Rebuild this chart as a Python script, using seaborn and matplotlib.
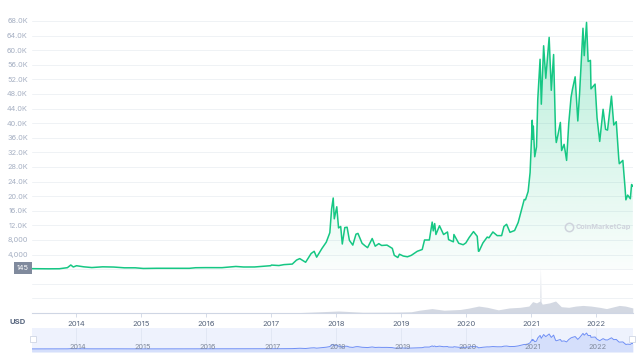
import seaborn as sns
import matplotlib.pyplot as plt
import matplotlib.dates as mdates
import numpy as np
import pandas as pd
from matplotlib.colors import to_rgb
from matplotlib.ticker import FuncFormatter

# price (USD)
price_dates = [
    "2013-04-28", "2013-06-01", "2013-08-01", "2013-10-01", "2013-11-15", "2013-12-04", "2013-12-18",
    "2014-01-05", "2014-02-15", "2014-04-01", "2014-06-01", "2014-08-01", "2014-10-01", "2014-12-01",
    "2015-01-15", "2015-04-01", "2015-07-01", "2015-10-01", "2015-11-05",
    "2016-01-01", "2016-04-01", "2016-06-18", "2016-08-01", "2016-10-01", "2016-12-31",
    "2017-01-04", "2017-02-15", "2017-03-15", "2017-05-01", "2017-05-25", "2017-06-12", "2017-07-15",
    "2017-08-15", "2017-09-01", "2017-09-15", "2017-10-15", "2017-11-08", "2017-11-28", "2017-12-08",
    "2017-12-17", "2017-12-23",
    "2018-01-06", "2018-01-16", "2018-01-28", "2018-02-06", "2018-02-20", "2018-03-05", "2018-03-18",
    "2018-04-06", "2018-04-24", "2018-05-05", "2018-05-28", "2018-06-14", "2018-06-28", "2018-07-24",
    "2018-08-10", "2018-08-30", "2018-09-15", "2018-10-15", "2018-11-14", "2018-11-25", "2018-12-15",
    "2018-12-24",
    "2019-01-15", "2019-02-07", "2019-03-01", "2019-04-03", "2019-05-01", "2019-05-14", "2019-06-10",
    "2019-06-26", "2019-07-02", "2019-07-10", "2019-07-17", "2019-08-06", "2019-08-29", "2019-09-20",
    "2019-09-26", "2019-10-23", "2019-10-26", "2019-11-22", "2019-12-17",
    "2020-01-01", "2020-01-20", "2020-02-13", "2020-03-05", "2020-03-12", "2020-03-16", "2020-04-06",
    "2020-04-30", "2020-05-10", "2020-06-01", "2020-06-25", "2020-07-20", "2020-08-02", "2020-08-17",
    "2020-09-05", "2020-10-01", "2020-10-21", "2020-11-05", "2020-11-24", "2020-12-01", "2020-12-16",
    "2020-12-27",
    "2021-01-08", "2021-01-11", "2021-01-14", "2021-01-22", "2021-02-01", "2021-02-08", "2021-02-21",
    "2021-02-28", "2021-03-13", "2021-03-25", "2021-04-13", "2021-04-25", "2021-05-08", "2021-05-19",
    "2021-05-23", "2021-06-01", "2021-06-15", "2021-06-22", "2021-07-06", "2021-07-20", "2021-08-01",
    "2021-08-14", "2021-08-22", "2021-09-06", "2021-09-21", "2021-10-01", "2021-10-20", "2021-10-27",
    "2021-11-09", "2021-11-18", "2021-12-01", "2021-12-04", "2021-12-27",
    "2022-01-07", "2022-01-22", "2022-02-10", "2022-02-24", "2022-03-07", "2022-03-29", "2022-04-11",
    "2022-04-25", "2022-05-09", "2022-05-12", "2022-06-01", "2022-06-13", "2022-06-18", "2022-06-28",
    "2022-07-13", "2022-07-20", "2022-07-27",
]
prices = [
    145, 120, 105, 125, 420, 1150, 600,
    950, 650, 450, 650, 590, 380, 380,
    200, 250, 260, 240, 400,
    430, 420, 750, 600, 610, 960,
    1130, 1000, 1250, 1400, 2500, 2900, 1900,
    4300, 4900, 3300, 5700, 7400, 10000, 16500,
    19500, 13800,
    17100, 11300, 11700, 6900, 11400, 11500, 7900,
    6600, 9600, 9800, 7100, 6400, 5900, 8400,
    6300, 7000, 6500, 6600, 5700, 3800, 3200,
    4100,
    3600, 3400, 3800, 4900, 5400, 8000, 8000,
    12900, 10500, 12500, 9500, 11900, 9500, 10200,
    8100, 7500, 9500, 7100, 6700,
    7200, 8700, 10300, 9000, 4900, 5000, 7200,
    8800, 8600, 10200, 9200, 9200, 11700, 12300,
    10100, 10600, 12800, 15600, 19100, 19000, 21300,
    26500,
    40800, 35600, 39200, 30800, 33500, 46500, 57500,
    45200, 61200, 52300, 63500, 49000, 58800, 37000,
    34700, 36700, 40200, 32500, 34200, 29800, 39900,
    47100, 49300, 52700, 40600, 48200, 66000, 58500,
    67600, 56900, 57200, 49400, 50700,
    41500, 35000, 43800, 38300, 38100, 47400, 39500,
    40400, 30300, 28900, 29800, 22500, 19000, 20300,
    19300, 23200, 22700,
]

# traded volume (billion USD)
vol_dates = [
    "2013-04-28", "2016-12-31", "2017-06-01", "2017-12-15", "2018-01-15", "2018-06-01", "2018-12-01",
    "2019-03-01", "2019-04-15", "2019-06-25", "2019-09-01", "2019-12-01", "2020-01-15", "2020-03-13",
    "2020-05-01", "2020-07-01", "2020-09-01", "2020-11-01", "2020-12-20", "2021-01-10", "2021-02-01",
    "2021-02-20", "2021-02-23", "2021-02-26", "2021-03-05", "2021-04-15", "2021-05-19", "2021-06-20",
    "2021-08-01", "2021-09-10", "2021-10-20", "2021-12-04", "2022-01-22", "2022-03-01", "2022-05-12",
    "2022-06-15", "2022-07-27",
]
volumes = [
    0.1, 1, 3, 14, 16, 6, 7,
    10, 22, 35, 22, 28, 38, 55,
    45, 25, 40, 45, 55, 90, 80,
    95, 360, 90, 70, 80, 95, 50,
    45, 55, 60, 55, 45, 35, 60,
    55, 40,
]

years = [str(y) for y in range(2014, 2023)]
y_ticks = list(range(-8000, 72000, 4000))

green = "#16c784"
df = pd.DataFrame({"date": pd.to_datetime(price_dates), "price": prices})
vol = pd.DataFrame({"date": pd.to_datetime(vol_dates), "volume": volumes})
x0, x1 = pd.Timestamp("2013-04-30"), pd.Timestamp("2022-07-28")

sns.set_theme(style="white")
plt.rcParams["font.family"] = ["Inter", "DejaVu Sans"]

fig = plt.figure(figsize=(6.42, 3.6), dpi=100)
ax = fig.add_axes([32 / 642, 1 - 313 / 360, 601 / 642, 303 / 360])

# volume underneath
vax = ax.twinx()
vax.fill_between(vol["date"], vol["volume"], 0, color="#d3d8e2", lw=0, zorder=1)
vax.set_ylim(0, 2400)
vax.set_yticks([])
for s in vax.spines.values():
    s.set_visible(False)
ax.set_zorder(vax.get_zorder() + 1)
ax.patch.set_visible(False)

# price line + gradient fill
sns.lineplot(data=df, x="date", y="price", ax=ax, color=green, lw=1.1, zorder=3)
poly = ax.fill_between(df["date"], df["price"], 0, color="none", lw=0)
grad = np.zeros((256, 1, 4))
grad[..., :3] = to_rgb(green)
grad[..., 3] = np.linspace(0.32, 0.02, 256).reshape(-1, 1)
img = ax.imshow(grad, aspect="auto", origin="upper", zorder=2,
                extent=[mdates.date2num(x0), mdates.date2num(x1), 0, 68000])
img.set_clip_path(poly.get_paths()[0], transform=ax.transData)

ax.set_xlim(x0, x1)
ax.set_ylim(-12000, 71000)
ax.set_yticks(y_ticks)
ax.yaxis.set_major_formatter(FuncFormatter(
    lambda v, p: "" if v <= 0 else (f"{v:,.0f}" if v < 10000 else f"{v / 1000:.1f}K")))
ax.grid(axis="y", color="#eff2f5", lw=0.7)
ax.tick_params(axis="y", length=0, pad=3, labelsize=5.3, labelcolor="#a6b0c3")
ax.set_xticks([pd.Timestamp(f"{y}-01-01") for y in years])
ax.set_xticklabels(years)
ax.tick_params(axis="x", length=3, width=0.6, color="#cfd6e4", pad=3,
               labelsize=5.5, labelcolor="#58667e", bottom=True)
ax.set_xlabel("")
ax.set_ylabel("")
for side in ["top", "right", "left"]:
    ax.spines[side].set_visible(False)
ax.spines["bottom"].set_color("#cfd6e4")
ax.spines["bottom"].set_linewidth(0.8)

fig.text(18 / 642, 1 - 322 / 360, "USD", fontsize=5.5, color="#58667e",
         ha="center", va="center", weight="bold")
fig.text(23 / 642, 1 - 268 / 360, f"{prices[0]:,.0f}", fontsize=5.3, color="white",
         ha="center", va="center",
         bbox=dict(boxstyle="square,pad=0.35", fc="#808a9d", ec="none"))

# watermark
ax.plot([0.893], [0.285], marker="o", ms=6, mfc="none", mec="#cfd3dc", mew=1.1,
        transform=ax.transAxes, zorder=4)
ax.text(0.905, 0.285, "CoinMarketCap", transform=ax.transAxes, fontsize=5.2,
        color="#cfd3dc", weight="bold", va="center", ha="left", zorder=4)

# navigator
nav = fig.add_axes([32 / 642, 1 - 352 / 360, 601 / 642, 24 / 360])
nav.set_facecolor("#eef2fd")
nav.fill_between(df["date"], df["price"], -13000, color="#d5dffb", lw=0)
sns.lineplot(data=df, x="date", y="price", ax=nav, color="#6f8ff5", lw=0.7)
nav.set_xlim(x0, x1)
nav.set_ylim(-13000, 89000)
nav.set_xticks([])
nav.set_yticks([])
nav.set_xlabel("")
nav.set_ylabel("")
for y in years:
    d = pd.Timestamp(f"{y}-01-01")
    nav.axvline(d, color="#dfe5f3", lw=0.6, zorder=0)
    nav.text(d + pd.Timedelta(days=10), 0.22, y, transform=nav.get_xaxis_transform(),
             fontsize=5.3, color="#808a9d", ha="center", va="center")
for s in nav.spines.values():
    s.set_visible(False)
for xx in [0.002, 0.998]:
    nav.plot([xx], [0.55], marker="s", ms=4.5, mfc="white", mec="#cfd6e4", mew=0.6,
             transform=nav.transAxes, clip_on=False)

fig.savefig("out.png", dpi=100)
